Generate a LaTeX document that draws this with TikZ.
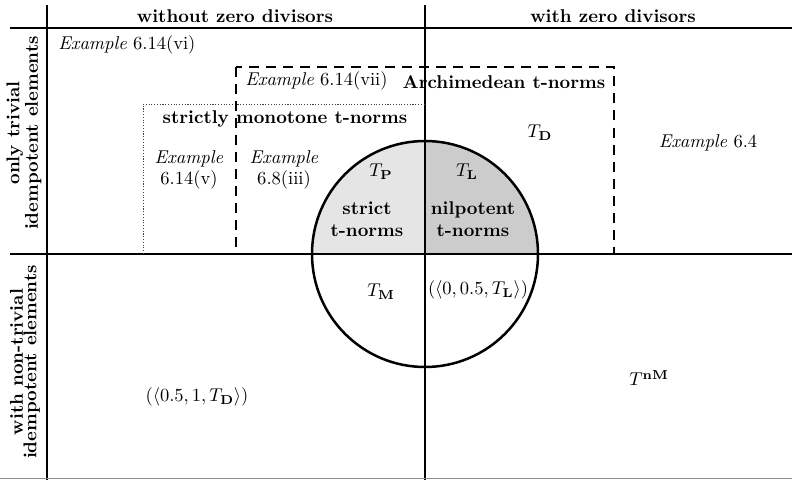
\documentclass[tikz,border=0pt]{standalone}
\begin{document}
\begin{tikzpicture}[x=0.54pt,y=-0.54pt,
  lbl/.style={inner sep=0pt, align=center, font=\fontsize{10}{11.5}\selectfont},
  blbl/.style={inner sep=0pt, align=center, font=\fontsize{10}{12}\selectfont\bfseries},
  side/.style={inner sep=0pt, align=center, rotate=90, font=\fontsize{10}{7.4}\selectfont\bfseries},
  thickline/.style={line width=1.1pt},
  thinline/.style={line width=0.55pt},
  archbox/.style={line width=1.3pt, dash pattern=on 5.4pt off 3.8pt},
  strbox/.style={line width=0.5pt, dash pattern=on 0.6pt off 0.9pt, black!75},
  ring/.style={line width=1.35pt},
]
\useasboundingbox (0,0) rectangle (792,480);
% shaded quarters of the circle
\begin{scope}
  \clip (300,130) rectangle (425,254);
  \fill[black!10] (425,254) circle[radius=113];
\end{scope}
\begin{scope}
  \clip (425,130) rectangle (550,254);
  \fill[black!20] (425,254) circle[radius=113];
\end{scope}
% table lines
\draw[thickline] (10,28) -- (792,28);
\draw[thickline] (47,5) -- (47,480);
\draw[thinline] (425,5) -- (425,480);
\draw[thinline] (10,254) -- (792,254);
\draw[line width=0.5pt, black!45] (0,478) -- (792,478);
% boxes
\draw[strbox] (143,254) -- (143,104) -- (425,104);
\draw[archbox] (236,67) rectangle (614,254);
\draw[ring] (425,254) circle[radius=113];
% headers
\node[blbl] (hdrL) at (235,16) {without zero divisors};
\node[blbl] (hdrR) at (613,16) {with zero divisors};
\node[side] (sideT) at (24,133) {only trivial\\idempotent elements};
\node[side] (sideB) at (25,362) {with non-trivial\\idempotent elements};
% labels
\node[lbl, anchor=west] (exvi) at (58,45) {\textit{Example} 6.14(vi)};
\node[lbl, anchor=west] (exvii) at (245,81) {\textit{Example} 6.14(vii)};
\node[blbl] (arch) at (504,82) {Archimedean t-norms};
\node[blbl] (strmon) at (285,119) {strictly monotone t-norms};
\node[lbl] (exv) at (189,170) {\textit{Example}\\6.14(v)};
\node[lbl] (exiii) at (284,170) {\textit{Example}\\6.8(iii)};
\node[lbl] (TP) at (381,172) {$T_{\mathbf{P}}$};
\node[lbl] (TL) at (467,172) {$T_{\mathbf{L}}$};
\node[blbl] (strict) at (367,219) {strict\\t-norms};
\node[blbl] (nilp) at (473,219) {nilpotent\\t-norms};
\node[lbl] (TD) at (540,133) {$T_{\mathbf{D}}$};
\node[lbl] (ex64) at (708,143) {\textit{Example} 6.4};
\node[lbl] (TM) at (381,292) {$T_{\mathbf{M}}$};
\node[lbl] (tupL) at (478,290) {$(\langle 0, 0.5, T_{\mathbf{L}}\rangle)$};
\node[lbl] (tupD) at (197,397) {$(\langle 0.5, 1, T_{\mathbf{D}}\rangle)$};
\node[lbl] (TnM) at (649,378) {$T^{\mathbf{nM}}$};
\end{tikzpicture}
\end{document}
